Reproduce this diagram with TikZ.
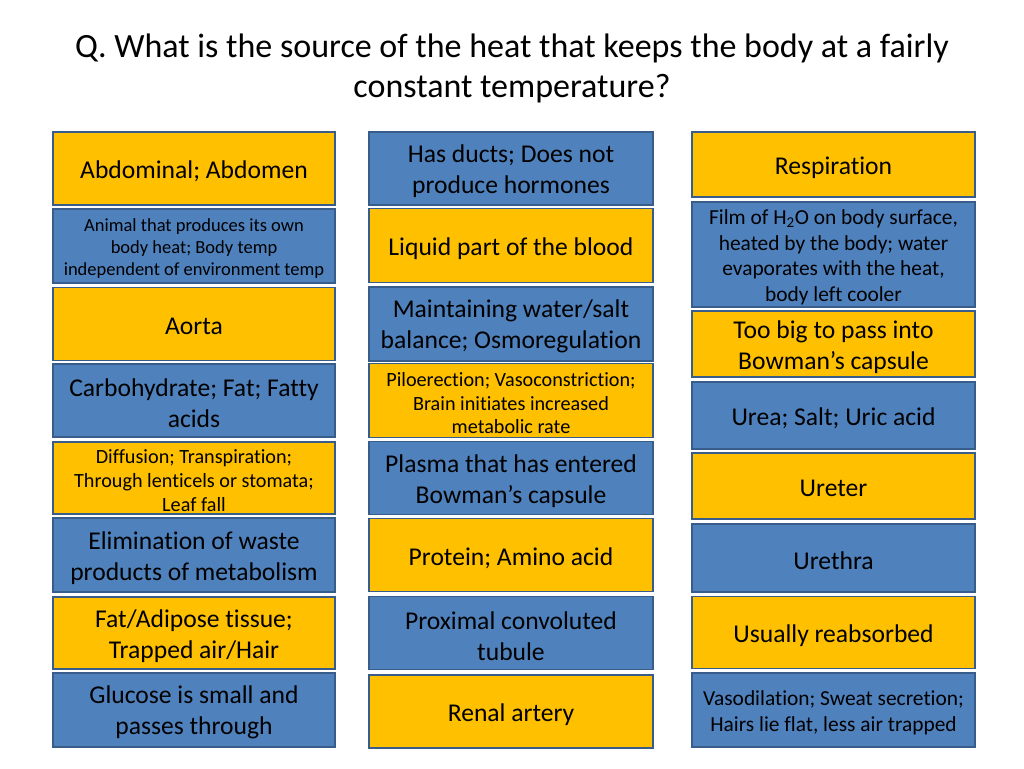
\documentclass[tikz,border=0pt]{standalone}
\usepackage{fontspec}
\setmainfont{Carlito}[Ligatures=CommonOff]
\definecolor{goldf}{HTML}{FFC000}
\definecolor{bluef}{HTML}{4F81BD}
\definecolor{edgec}{HTML}{385D8A}
\tikzset{
  card/.style={draw=edgec, line width=1.6pt, inner sep=0pt},
  gold/.style={card, fill=goldf},
  blu/.style={card, fill=bluef},
  cardtext/.style={align=center, text=black, inner sep=0pt},
  big/.style={cardtext, font=\fontsize{25.6}{31}\selectfont},
  mid/.style={cardtext, font=\fontsize{21.4}{25.5}\selectfont},
  sml/.style={cardtext, font=\fontsize{20.2}{23.7}\selectfont},
  tiny/.style={cardtext, font=\fontsize{18.5}{22}\selectfont},
  ttl/.style={font=\fontsize{34}{40}\selectfont, align=center, text=black}
}
% #1 box style, #2 text style, #3 name, #4 cx, #5 cy, #6 width, #7 height, #8 text
\newcommand{\mycard}[8]{%
  \node[#1, minimum width=#6pt, minimum height=#7pt] (#3) at (#4,#5) {};
  \node[#2] (#3-t) at ([yshift=-2.8pt]#3.center) {#8};
}
\begin{document}
\begin{tikzpicture}[x=1pt,y=-1pt]
\useasboundingbox[fill=white] (0,0) rectangle (1024,768);
\node[ttl] (title) at (512,68.5) {Q. What is the source of the heat that keeps the body at a fairly\\constant temperature?};
% column 1
\mycard{gold}{big}{a1}{194}{168.5}{282}{73}{Abdominal; Abdomen}
\mycard{blu}{tiny}{a2}{194}{246}{282}{74}{Animal that produces its own\\body heat; Body temp\\independent of environment temp}
\mycard{gold}{big}{a3}{194}{324}{282}{73}{Aorta}
\mycard{blu}{big}{a4}{194}{400.5}{282}{73}{Carbohydrate; Fat; Fatty\\acids}
\mycard{gold}{sml}{a5}{194}{478}{282}{72}{Diffusion; Transpiration;\\Through lenticels or stomata;\\Leaf fall}
\mycard{blu}{big}{a6}{194}{555}{282}{74}{Elimination of waste\\products of metabolism}
\mycard{gold}{big}{a7}{194}{633}{282}{72}{Fat/Adipose tissue;\\Trapped air/Hair}
\mycard{blu}{big}{a8}{194}{710}{282}{74}{Glucose is small and\\passes through}
% column 2
\mycard{blu}{big}{b1}{511}{168.5}{284}{73}{Has ducts; Does not\\produce hormones}
\mycard{gold}{big}{b2}{511}{245.5}{284}{74}{Liquid part of the blood}
\mycard{blu}{big}{b3}{511}{324}{284}{74}{Maintaining water/salt\\balance; Osmoregulation}
\mycard{gold}{sml}{b4}{511}{400.5}{284}{74}{Piloerection; Vasoconstriction;\\Brain initiates increased\\metabolic rate}
\mycard{blu}{big}{b5}{511}{478}{284}{73}{Plasma that has entered\\Bowman’s capsule}
\mycard{gold}{big}{b6}{511}{555}{284}{73}{Protein; Amino acid}
\mycard{blu}{big}{b7}{511}{633}{284}{73}{Proximal convoluted\\tubule}
\mycard{gold}{big}{b8}{511}{711.5}{284}{73}{Renal artery}
% column 3
\mycard{gold}{big}{c1}{833.5}{164.5}{283}{65}{Respiration}
\mycard{blu}{mid}{c2}{833.5}{254.5}{283}{105}{Film of H\textsubscript{2}O on body surface,\\heated by the body; water\\evaporates with the heat,\\body left cooler}
\mycard{gold}{big}{c3}{833.5}{344}{283}{66}{Too big to pass into\\Bowman’s capsule}
\mycard{blu}{big}{c4}{833.5}{415.5}{283}{67}{Urea; Salt; Uric acid}
\mycard{gold}{big}{c5}{833.5}{486}{283}{66}{Ureter}
\mycard{blu}{big}{c6}{833.5}{558}{283}{68}{Urethra}
\mycard{gold}{big}{c7}{833.5}{632.5}{283}{72}{Usually reabsorbed}
\mycard{blu}{mid}{c8}{833.5}{710}{283}{74}{Vasodilation; Sweat secretion;\\Hairs lie flat, less air trapped}
\end{tikzpicture}
\end{document}
